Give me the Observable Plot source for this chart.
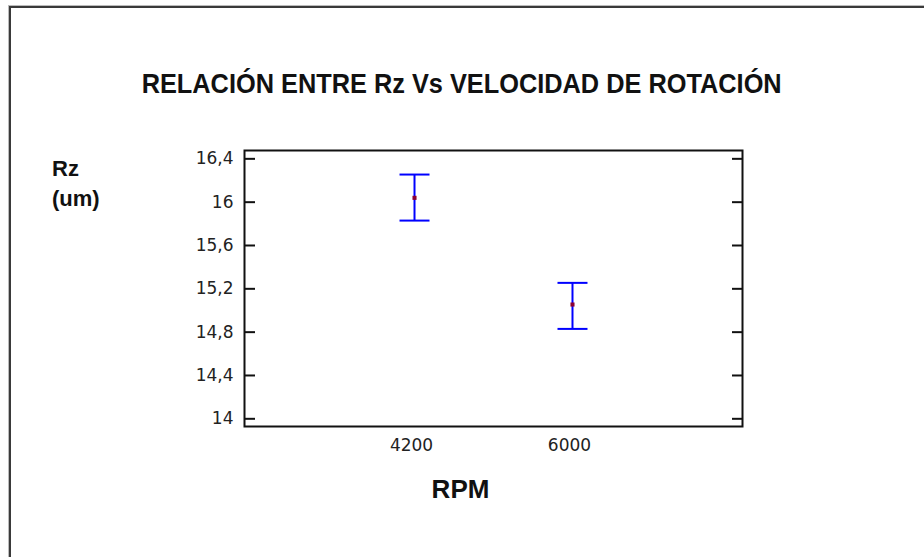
<!DOCTYPE html>
<html>
<head>
<meta charset="utf-8">
<script src="https://cdn.jsdelivr.net/npm/d3@7"></script>
<script src="https://cdn.jsdelivr.net/npm/@observablehq/plot@0.6"></script>
<style>
  html, body { margin: 0; padding: 0; background: #fff; }
  #wrap { position: relative; width: 924px; height: 557px; overflow: hidden; background: #fff; }
  #border { position: absolute; left: 9px; top: 6px; width: 2000px; height: 2000px;
            border-left: 2px solid #3a3a3a; border-top: 2px solid #3a3a3a;
            box-shadow: -1px -1px 0 #bbb; }
  #chart { position: absolute; left: 0; top: 0; }
  .lbl { position: absolute; font-family: "Liberation Sans", Arial, sans-serif; font-weight: bold; color: #111; white-space: nowrap; }
  #title { left: 0; width: 924px; top: 70px; text-align: center; font-size: 28px; line-height: 28px; }
  #title span { display: inline-block; transform-origin: center; }
  #ylab { left: 52px; top: 154px; font-size: 22px; line-height: 30px; }
  #xlab { left: 0; width: 921px; top: 476px; text-align: center; font-size: 26px; line-height: 26px; }
</style>
</head>
<body>
<div id="wrap">
  <div id="border"></div>
  <div id="chart"></div>
  <div class="lbl" id="title"><span>RELACIÓN ENTRE Rz Vs VELOCIDAD DE ROTACIÓN</span></div>
  <div class="lbl" id="ylab">Rz<br>(um)</div>
  <div class="lbl" id="xlab">RPM</div>
</div>
<script>
// Data
const rpm = [4200, 6000];
const rzMean = [16.04, 15.055];
const rzLower = [15.83, 14.83];
const rzUpper = [16.255, 15.255];
const yTicks = [14, 14.4, 14.8, 15.2, 15.6, 16, 16.4];
const xTicks = [4200, 6000];

const rows = rpm.map((r, i) => ({rpm: r, mean: rzMean[i], lo: rzLower[i], hi: rzUpper[i]}));
const fmt = d => String(d).replace(".", ",");

// horizontal cap symbol for the interval ends
const capSymbol = { draw(ctx) { ctx.moveTo(-15, 0); ctx.lineTo(15, 0); } };

const chart = Plot.plot({
  width: 924,
  height: 557,
  marginLeft: 244,
  marginRight: 182,
  marginTop: 150,
  marginBottom: 131,
  style: { fontFamily: "DejaVu Sans, sans-serif", fontSize: "17px", color: "#222", background: "transparent" },
  x: { type: "linear", domain: [2263, 7937] },
  y: { domain: [13.929, 16.477] },
  marks: [
    Plot.ruleX(rows, { x: "rpm", y1: "lo", y2: "hi", stroke: "#0000ff", strokeWidth: 2 }),
    Plot.dot(rows, { x: "rpm", y: "hi", symbol: capSymbol, stroke: "#0000ff", strokeWidth: 2, fill: "none" }),
    Plot.dot(rows, { x: "rpm", y: "lo", symbol: capSymbol, stroke: "#0000ff", strokeWidth: 2, fill: "none" }),
    Plot.dot(rows, { x: "rpm", y: "mean", symbol: "square", r: 2.3, fill: "#8b0033", stroke: "none" }),
    Plot.axisY({ ticks: yTicks, anchor: "left", tickSize: -11, tickPadding: 22, tickFormat: fmt, label: null, stroke: "#111", strokeWidth: 2 }),
    Plot.axisY({ ticks: yTicks, anchor: "right", tickSize: -11, tickFormat: () => "", label: null, stroke: "#111", strokeWidth: 2 }),
    Plot.axisX({ ticks: xTicks, anchor: "bottom", tickSize: 0, tickPadding: 12, dx: -3, tickFormat: d => String(d), label: null }),
    Plot.frame({ stroke: "#111", strokeWidth: 2 })
  ]
});
document.getElementById("chart").appendChild(chart);

// fit title width to the reference's condensed title
const span = document.querySelector("#title span");
const w = span.getBoundingClientRect().width;
span.style.transform = `scaleX(${640 / w})`;
</script>
</body>
</html>
